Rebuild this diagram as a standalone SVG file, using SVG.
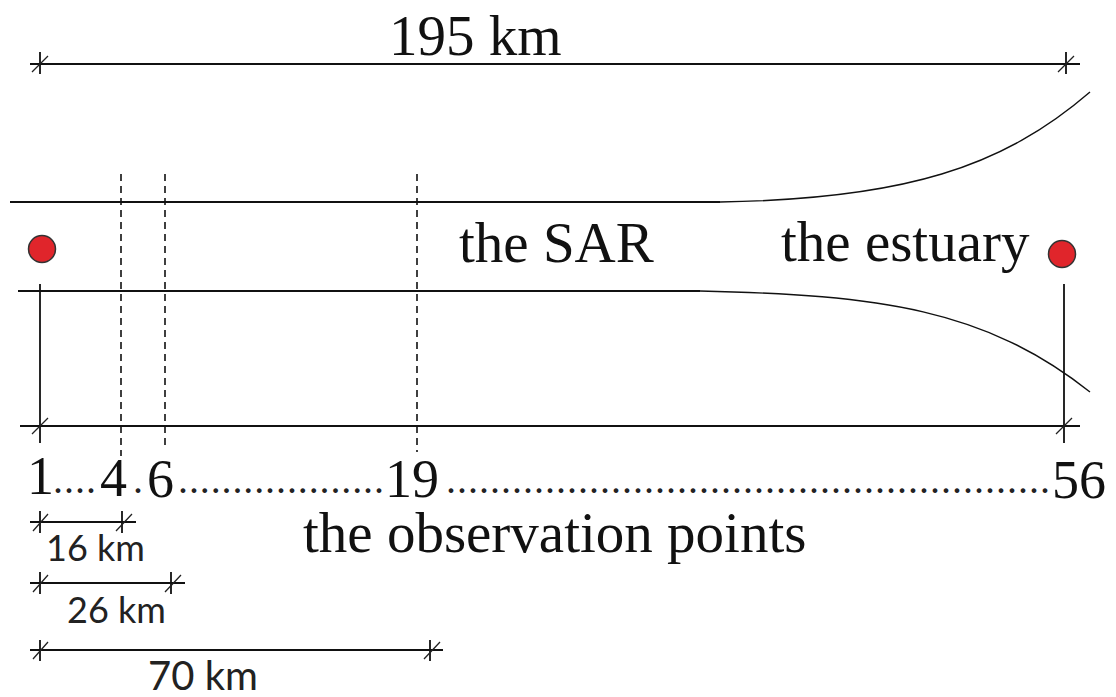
<svg xmlns="http://www.w3.org/2000/svg" width="1116" height="697" viewBox="0 0 1116 697">
<style>
.l{fill:none;stroke:#111;stroke-width:1.8}
.k{fill:none;stroke:#111;stroke-width:1.4}
.t{fill:none;stroke:#222;stroke-width:1.3}
.d{fill:none;stroke:#111;stroke-width:1.6;stroke-dasharray:7 5}
.s{font-family:"Liberation Serif",serif;fill:#111;font-size:57px}
.n{font-family:"Liberation Serif",serif;fill:#111;font-size:54px}
.o{font-family:"Liberation Serif",serif;fill:#222;font-size:40px}
.c{font-family:"Lato",sans-serif;fill:#222;font-size:36px}
.c2{font-family:"Lato",sans-serif;fill:#222;font-size:40px}
.p{fill:#e0252b;stroke:#333;stroke-width:1.5}
</style>
<rect width="1116" height="697" fill="#fff"/>
<g id="connectors">
<path class="l" d="M30 64H1080M40 52V74M1066 52V74"/>
<path class="t" d="M32 72L48 56M1058 72L1074 56"/>
<path class="l" d="M10 202H720"/>
<path class="k" d="M720 202C905 199 1003 167 1090 92"/>
<path class="l" d="M18 291H700"/>
<path class="k" d="M700 291C880 295 985 309 1090 392"/>
<path class="l" d="M40 284V443M1064 284V443M20 426H1080"/>
<path class="t" d="M32 434L48 418M1056 434L1072 418"/>
<path class="d" d="M121 174V456M165 174V450M417 174V452"/>
<path class="l" d="M30 522H136M40 511V533M122 511V533"/>
<path class="t" d="M33 531L48 514M116 531L132 514"/>
<path class="l" d="M30 583H185M40 572V594M171 572V594"/>
<path class="t" d="M33 592L48 575M165 592L181 575"/>
<path class="l" d="M30 650H443M40 640V661M430 640V661"/>
<path class="t" d="M33 659L48 642M424 659L440 642"/>
</g>
<g id="node-left"><circle class="p" cx="42" cy="249" r="13.5"/></g>
<g id="node-right"><circle class="p" cx="1062" cy="254" r="13.5"/></g>
<g id="labels">
<text class="s" x="389" y="55">195 km</text>
<text class="s" x="459" y="262">the SAR</text>
<text class="s" x="781" y="261">the estuary</text>
<text class="n" x="27" y="494">1</text>
<text class="o" x="53" y="493" textLength="43" lengthAdjust="spacing">....</text>
<text class="n" x="100" y="496">4</text>
<text class="o" x="133" y="493">.</text>
<text class="n" x="147" y="497">6</text>
<text class="o" x="178" y="493" textLength="206" lengthAdjust="spacing">...................</text>
<text class="n" x="385" y="497">19</text>
<text class="o" x="446" y="493" textLength="604" lengthAdjust="spacing">.......................................................</text>
<text class="n" x="1052" y="498">56</text>
<text class="s" x="303" y="552">the observation points</text>
<text class="c" x="46" y="561">16 km</text>
<text class="c" x="67" y="623">26 km</text>
<text class="c2" x="148" y="690">70 km</text>
</g>
</svg>
